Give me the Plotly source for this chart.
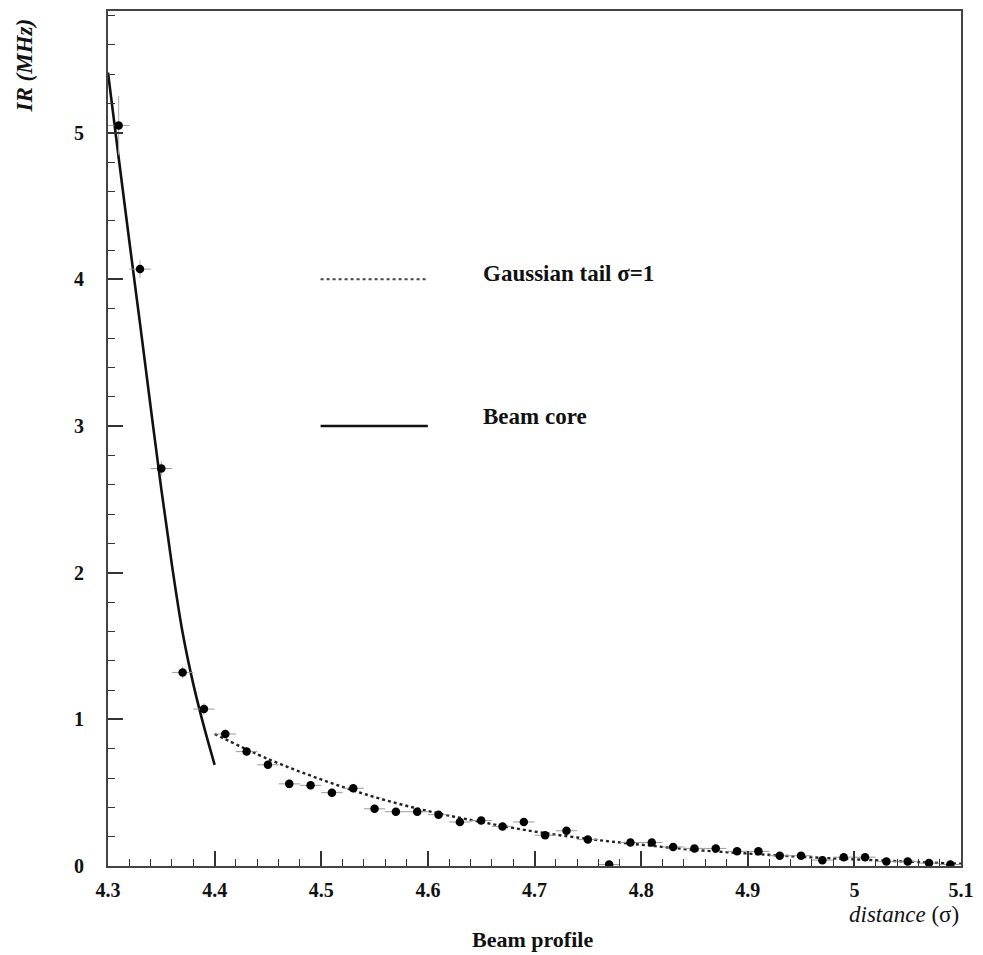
import plotly.graph_objects as go

# Measured data (bin centres, rates in MHz)
dist = [4.31, 4.33, 4.35, 4.37, 4.39, 4.41, 4.43, 4.45, 4.47, 4.49,
        4.51, 4.53, 4.55, 4.57, 4.59, 4.61, 4.63, 4.65, 4.67, 4.69,
        4.71, 4.73, 4.75, 4.77, 4.79, 4.81, 4.83, 4.85, 4.87, 4.89,
        4.91, 4.93, 4.95, 4.97, 4.99, 5.01, 5.03, 5.05, 5.07, 5.09]
rate = [5.05, 4.07, 2.71, 1.32, 1.07, 0.90, 0.78, 0.69, 0.56, 0.55,
        0.50, 0.53, 0.39, 0.37, 0.37, 0.35, 0.30, 0.31, 0.27, 0.30,
        0.21, 0.24, 0.18, 0.01, 0.16, 0.16, 0.13, 0.12, 0.12, 0.10,
        0.10, 0.07, 0.07, 0.04, 0.06, 0.06, 0.03, 0.03, 0.02, 0.01]
rate_err = [0.20, 0.06, 0.05, 0.04, 0.04, 0.03, 0.03, 0.03, 0.03, 0.03,
            0.03, 0.03, 0.02, 0.02, 0.02, 0.02, 0.02, 0.02, 0.02, 0.02,
            0.02, 0.02, 0.02, 0.02, 0.02, 0.02, 0.02, 0.02, 0.02, 0.02,
            0.02, 0.02, 0.02, 0.02, 0.02, 0.02, 0.02, 0.02, 0.02, 0.02]
bin_half = [0.01] * len(dist)

# Beam core curve
core_x = [4.30, 4.31, 4.32, 4.33, 4.34, 4.35, 4.36, 4.37, 4.38, 4.39, 4.40]
core_y = [5.41, 4.83, 4.26, 3.70, 3.13, 2.57, 2.05, 1.59, 1.24, 0.95, 0.69]

# Gaussian tail curve
tail_x = [4.40, 4.45, 4.50, 4.55, 4.60, 4.65, 4.70, 4.75, 4.80, 4.85,
          4.90, 4.95, 5.00, 5.05, 5.10]
tail_y = [0.90, 0.73, 0.59, 0.47, 0.375, 0.30, 0.235, 0.185, 0.145, 0.11,
          0.085, 0.063, 0.045, 0.03, 0.015]

x_ticks = [4.3, 4.4, 4.5, 4.6, 4.7, 4.8, 4.9, 5.0, 5.1]
x_tick_labels = ["4.3", "4.4", "4.5", "4.6", "4.7", "4.8", "4.9", "5", "5.1"]
y_ticks = [0, 1, 2, 3, 4, 5]
y_tick_labels = ["0", "1", "2", "3", "4", "5"]

SERIF = "Liberation Serif, Times New Roman, serif"

fig = go.Figure()

fig.add_trace(go.Scatter(
    x=tail_x, y=tail_y, mode="lines",
    line=dict(color="#222", width=2.4, dash="dot", shape="spline"),
    showlegend=False, hoverinfo="skip"))

fig.add_trace(go.Scatter(
    x=core_x, y=core_y, mode="lines",
    line=dict(color="#111", width=2.6, shape="spline", smoothing=1.0),
    showlegend=False, hoverinfo="skip"))

fig.add_trace(go.Scatter(
    x=dist, y=rate, mode="markers",
    marker=dict(color="black", size=8.5),
    error_x=dict(type="data", array=bin_half, color="#999", thickness=1, width=0),
    error_y=dict(type="data", array=rate_err, color="#aaa", thickness=1, width=0),
    showlegend=False))

axis_font = dict(family=SERIF, size=20, color="#111")

fig.update_xaxes(
    range=[4.3, 5.1], tickmode="array", tickvals=x_ticks,
    ticktext=["<b>%s</b>" % t for t in x_tick_labels],
    ticks="inside", ticklen=15, tickwidth=1.5, tickcolor="#333",
    minor=dict(dtick=0.02, tick0=4.3, ticks="inside", ticklen=7, tickwidth=1.2, tickcolor="#333"),
    showline=True, linewidth=2, linecolor="#444", mirror=True,
    showgrid=False, zeroline=False, tickfont=axis_font, ticklabelstandoff=5)

fig.update_yaxes(
    range=[0, 5.83], tickmode="array", tickvals=y_ticks,
    ticktext=["<b>%s</b>" % t for t in y_tick_labels],
    ticks="inside", ticklen=15, tickwidth=1.5, tickcolor="#333",
    minor=dict(dtick=0.2, tick0=0, ticks="inside", ticklen=7, tickwidth=1.2, tickcolor="#333"),
    showline=True, linewidth=2, linecolor="#444", mirror=True,
    showgrid=False, zeroline=False, tickfont=axis_font, ticklabelstandoff=18)

# Legend drawn inside the frame
fig.add_shape(type="line", xref="paper", yref="paper",
              x0=(322 - 108) / 858.7, x1=(428 - 108) / 858.7,
              y0=(866 - 278) / 857, y1=(866 - 278) / 857,
              line=dict(color="#444", width=2, dash="dot"))
fig.add_shape(type="line", xref="paper", yref="paper",
              x0=(322 - 108) / 858.7, x1=(430 - 108) / 858.7,
              y0=(866 - 425) / 857, y1=(866 - 425) / 857,
              line=dict(color="#111", width=2.6))

annots = [
    dict(text="<b>Gaussian tail σ=1</b>", x=(483 - 108) / 858.7, y=(866 - 272) / 857,
         xanchor="left", yanchor="middle", font=dict(family=SERIF, size=23, color="#111")),
    dict(text="<b>Beam core</b>", x=(483 - 108) / 858.7, y=(866 - 415) / 857,
         xanchor="left", yanchor="middle", font=dict(family=SERIF, size=23, color="#111")),
    dict(text="<b><i>IR (MHz)</i></b>", x=-84 / 858.7, y=(866 - 64) / 857, textangle=-90,
         xanchor="center", yanchor="middle", font=dict(family=SERIF, size=23, color="#111")),
    dict(text="<i>distance</i> (σ)", x=1.0, y=-(915 - 866) / 857,
         xanchor="right", yanchor="middle", font=dict(family=SERIF, size=23, color="#111")),
    dict(text="<b>Beam profile</b>", x=(535 - 108) / 858.7, y=-(940 - 866) / 857,
         xanchor="center", yanchor="middle", font=dict(family=SERIF, size=22, color="#111")),
]
for a in annots:
    a.update(xref="paper", yref="paper", showarrow=False)
    fig.add_annotation(**a)

fig.update_layout(
    width=983, height=955,
    margin=dict(l=108, r=16, t=9, b=89),
    paper_bgcolor="white", plot_bgcolor="white",
)

fig.write_html("out.html")
